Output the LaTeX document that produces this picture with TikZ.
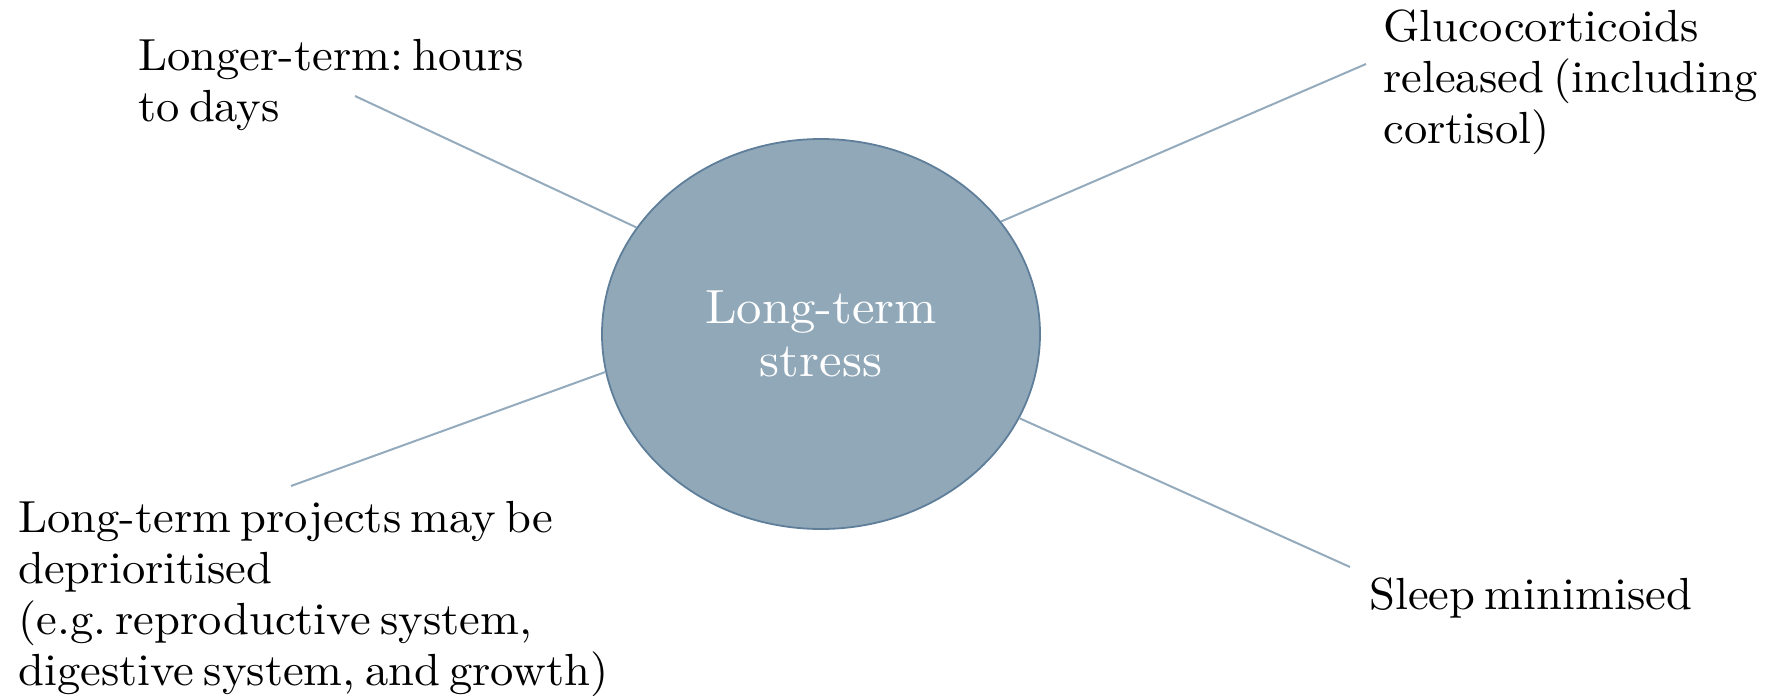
\documentclass[tikz,border=0pt]{standalone}
\usepackage{fontspec}
\usetikzlibrary{shapes.geometric}
\newfontfamily\labfont{lmroman10-regular}[Extension=.otf, FakeStretch=1.035, WordSpace=0.6]
\newfontfamily\hubfont{lmroman10-regular}[Extension=.otf, FakeStretch=1.057]
\definecolor{fillc}{HTML}{91A8B9}
\definecolor{edgec}{HTML}{5E7E99}
\definecolor{linec}{HTML}{94ABBD}
\begin{document}
\begin{tikzpicture}[x=0.5pt,y=-0.5pt,
  lab/.style={anchor=base west, inner sep=0pt, align=left, font=\labfont\fontsize{22.5}{25.5}\selectfont\frenchspacing, text=black},
  conn/.style={draw=linec, line width=1pt},
  hub/.style={ellipse, fill=fillc, draw=edgec, line width=0.9pt, minimum width=219pt, minimum height=195pt, inner sep=0pt, align=center, text=white, font=\hubfont\fontsize{24}{26.5}\selectfont}]
\useasboundingbox (0,0) rectangle (1769,696);
\node[hub] (c) at (821,334) {Long-term\\stress};
\node[lab] (t1) at (138,121) {Longer-term: hours\\to days};
\node[lab] (t2) at (1383,143) {Glucocorticoids\\released (including\\cortisol)};
\node[lab] (t3) at (18,685) {Long-term projects may be\\deprioritised\\(e.g. reproductive system,\\digestive system, and growth)};
\node[lab] (t4) at (1369,609) {Sleep minimised};
\coordinate (e1) at (355,96);
\coordinate (e2) at (1366,64);
\coordinate (e3) at (291,486);
\coordinate (e4) at (1350,567);
\draw[conn] (e1) -- (c.150.8);
\draw[conn] (e2) -- (c.32.3);
\draw[conn] (e3) -- (c.190.6);
\draw[conn] (e4) -- (c.337);
\end{tikzpicture}
\end{document}
